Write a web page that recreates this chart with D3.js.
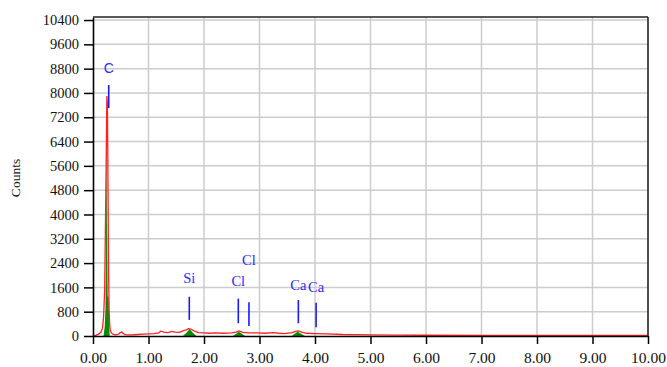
<!DOCTYPE html>
<html>
<head>
<meta charset="utf-8">
<script src="https://cdn.jsdelivr.net/npm/d3@7"></script>
<style>
body { margin: 0; background: #fff; }
svg { display: block; }
</style>
</head>
<body>
<svg id="chart"></svg>
<script>
// spectrum (red line)
var redE = [0, 0.05, 0.10, 0.14, 0.17, 0.19, 0.21, 0.23, 0.25, 0.26,
    0.27, 0.28, 0.29, 0.30, 0.31, 0.33, 0.36, 0.40, 0.45, 0.49,
    0.52, 0.55, 0.60, 0.70, 0.80, 0.90, 1.00, 1.10, 1.18, 1.22,
    1.28, 1.35, 1.42, 1.48, 1.55, 1.62, 1.68, 1.72, 1.76, 1.82,
    1.90, 2.00, 2.10, 2.20, 2.35, 2.50, 2.58, 2.63, 2.70, 2.80,
    2.95, 3.10, 3.25, 3.35, 3.45, 3.58, 3.66, 3.70, 3.76, 3.85,
    4.00, 4.20, 4.50, 5.00, 5.50, 6.00, 7.00, 8.00, 9.00, 10.0]
var redC = [0, 20, 60, 120, 250, 600, 1500, 4500, 7900, 7600,
    5000, 2200, 900, 400, 200, 100, 60, 40, 50, 110,
    130, 70, 40, 40, 50, 60, 70, 80, 100, 160,
    130, 110, 150, 130, 120, 170, 200, 240, 230, 170,
    110, 100, 90, 100, 90, 100, 130, 170, 120, 100,
    100, 90, 110, 90, 80, 110, 150, 170, 130, 90,
    80, 70, 50, 40, 30, 25, 20, 20, 20, 20]

// fitted peaks (green fill)
var greenE = [0.19, 0.21, 0.225, 0.235, 0.245, 0.255, 0.265, 0.28, 0.29, 0.30,
    1.62, 1.68, 1.74, 1.80, 1.86,
    2.52, 2.58, 2.63, 2.68, 2.74,
    3.58, 3.64, 3.69, 3.75, 3.82]
var greenC = [0, 300, 900, 3200, 7000, 3200, 1300, 1300, 600, 0,
    0, 100, 230, 110, 0,
    0, 70, 140, 70, 0,
    0, 80, 140, 70, 0]

// element markers
var elements = ["C", "Si", "Cl", "Cl", "Ca", "Ca"]
var markE = [0.283, 1.735, 2.618, 2.81, 3.70, 4.02]
var markTop = [8260, 1290, 1230, 1110, 1185, 1095]
var markBottom = [7500, 530, 420, 330, 420, 290]
var labelY = [8655, 1744, 1655, 2337, 1514, 1458]

var xTicks = [0, 1, 2, 3, 4, 5, 6, 7, 8, 9, 10]
var yTicks = [0, 800, 1600, 2400, 3200, 4000, 4800, 5600, 6400, 7200, 8000, 8800, 9600, 10400]

var width = 667
var height = 367

var svg = d3.select("#chart")
    .attr("width", width)
    .attr("height", height)

var x = d3.scaleLinear().domain([0, 10]).range([93, 648])
var y = d3.scaleLinear().domain([0, 10500]).range([336, 17])

// grid
svg.append("g")
    .selectAll("line")
    .data(xTicks.slice(1, -1))
    .enter()
    .append("line")
    .attr("x1", d => x(d)).attr("x2", d => x(d))
    .attr("y1", y(10500)).attr("y2", y(0))
    .attr("stroke", "#cccccc")
    .attr("stroke-width", 1.5)

svg.append("g")
    .selectAll("line")
    .data(yTicks.slice(1))
    .enter()
    .append("line")
    .attr("x1", x(0)).attr("x2", x(10))
    .attr("y1", d => y(d)).attr("y2", d => y(d))
    .attr("stroke", "#cccccc")
    .attr("stroke-width", 1.5)

// green peaks
var green = greenE.map((e, i) => [e, greenC[i]])
svg.append("path")
    .datum(green)
    .attr("fill", "#0a8a0a")
    .attr("d", d3.area()
        .x(d => x(d[0]))
        .y0(y(0))
        .y1(d => y(d[1])))

// red spectrum
var red = redE.map((e, i) => [e, redC[i]])
svg.append("path")
    .datum(red)
    .attr("fill", "none")
    .attr("stroke", "#ff2020")
    .attr("stroke-width", 1.3)
    .attr("d", d3.line()
        .x(d => x(d[0]))
        .y(d => y(d[1])))

// axes
var xAxis = svg.append("g")
    .attr("transform", "translate(0," + y(0) + ")")
    .call(d3.axisBottom(x).tickValues(xTicks).tickFormat(d3.format(".2f")).tickSize(8).tickSizeOuter(0))
var yAxis = svg.append("g")
    .attr("transform", "translate(" + x(0) + ",0)")
    .call(d3.axisLeft(y).tickValues(yTicks).tickFormat(d3.format("d")).tickSize(9).tickSizeOuter(0))

xAxis.select(".domain").attr("stroke-width", 1.6)
yAxis.select(".domain").attr("stroke-width", 1.6)
xAxis.selectAll(".tick line").attr("stroke-width", 1.5)
yAxis.selectAll(".tick line").attr("stroke-width", 1.5)
xAxis.selectAll(".tick text")
    .attr("y", 16)
    .style("font-family", "'Liberation Serif', serif")
    .style("font-size", "15.5px")
    .attr("fill", "#111")
yAxis.selectAll(".tick text")
    .attr("x", -14)
    .style("font-family", "'Liberation Serif', serif")
    .style("font-size", "14.5px")
    .attr("fill", "#111")

// top and right border
svg.append("line")
    .attr("x1", x(0)).attr("x2", x(10))
    .attr("y1", y(10500)).attr("y2", y(10500))
    .attr("stroke", "#222").attr("stroke-width", 1.6)
svg.append("line")
    .attr("x1", x(10)).attr("x2", x(10))
    .attr("y1", y(10500)).attr("y2", y(0))
    .attr("stroke", "#222").attr("stroke-width", 1.6)

// y label
svg.append("text")
    .attr("transform", "translate(20,178) rotate(-90)")
    .attr("text-anchor", "middle")
    .style("font-family", "'Liberation Serif', serif")
    .style("font-size", "13.5px")
    .attr("fill", "#111")
    .text("Counts")

// element markers
var marks = svg.append("g")
elements.forEach(function(el, i) {
    marks.append("line")
        .attr("x1", x(markE[i])).attr("x2", x(markE[i]))
        .attr("y1", y(markTop[i])).attr("y2", y(markBottom[i]))
        .attr("stroke", "#1a1aff")
        .attr("stroke-width", 1.6)
    marks.append("text")
        .attr("x", x(markE[i]))
        .attr("y", y(labelY[i]))
        .attr("text-anchor", "middle")
        .style("font-family", el == "C" ? "'Liberation Sans', sans-serif" : "'Liberation Serif', serif")
        .style("font-size", el == "C" ? "14px" : "14.5px")
        .attr("fill", "#2a2aff")
        .text(el)
})
</script>
</body>
</html>
